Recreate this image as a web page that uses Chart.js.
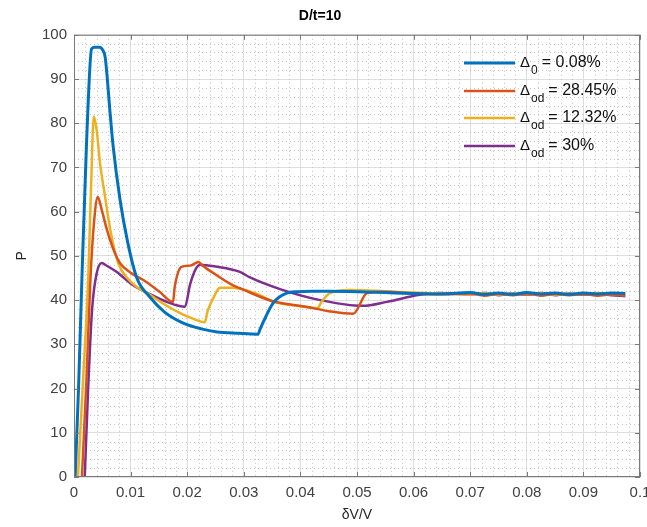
<!DOCTYPE html>
<html>
<head>
<meta charset="utf-8">
<script src="https://cdn.jsdelivr.net/npm/chart.js@4.4.1/dist/chart.umd.min.js"></script>
<style>
  html, body { margin: 0; padding: 0; background: #fff; }
  #wrap { width: 647px; height: 527px; }
</style>
</head>
<body>
<div id="wrap"><canvas id="chart" width="647" height="527"></canvas></div>
<script>
// series data
const blueX = [0.0002, 0.0008, 0.0014, 0.0022, 0.0031, 0.0036, 0.0045, 0.0051, 0.0055, 0.0064, 0.0069, 0.0081, 0.0095, 0.0111, 0.0134, 0.016, 0.0193, 0.0225, 0.0253, 0.029, 0.0325, 0.0329, 0.0352, 0.0376, 0.0394, 0.042, 0.045, 0.05, 0.055, 0.06, 0.065, 0.07, 0.0725, 0.075, 0.0775, 0.08, 0.0825, 0.085, 0.0875, 0.09, 0.0925, 0.095, 0.0974];
const blueY = [0, 20, 45, 75, 96.8, 97.2, 97.2, 96.5, 95, 82, 75, 63, 53, 45, 40.7, 37.3, 34.8, 33.5, 32.8, 32.5, 32.3, 33.5, 39.4, 41.6, 41.9, 42, 42, 41.9, 41.7, 41.5, 41.4, 41.7, 41.3, 41.6, 41.3, 41.7, 41.4, 41.6, 41.3, 41.6, 41.4, 41.6, 41.5];

const orangeX = [0.0014, 0.0022, 0.0029, 0.0035, 0.0042, 0.0049, 0.0058, 0.0072, 0.0081, 0.0100, 0.0122, 0.015, 0.0175, 0.0178, 0.019, 0.0205, 0.022, 0.0228, 0.025, 0.028, 0.0293, 0.035, 0.041, 0.045, 0.0493, 0.0518, 0.055, 0.06, 0.065, 0.07, 0.0725, 0.075, 0.0775, 0.08, 0.0825, 0.085, 0.0875, 0.09, 0.0925, 0.095, 0.0974];
const orangeY = [0, 22, 44.6, 57, 63.3, 60.4, 56, 50.7, 48.4, 46.2, 44.6, 42, 39.6, 43, 47.5, 47.8, 48.6, 47.7, 45.8, 43.4, 42.7, 39.8, 38.5, 37.5, 36.9, 41.6, 41.9, 41.5, 41.3, 41.5, 41, 41.4, 41.1, 41.5, 41, 41.4, 41.1, 41.4, 41, 41.3, 41];

const yellowX = [0.0007, 0.0016, 0.0025, 0.003, 0.0035, 0.004, 0.0046, 0.0055, 0.0064, 0.0078, 0.0094, 0.0113, 0.0134, 0.016, 0.0193, 0.021, 0.0231, 0.0236, 0.0249, 0.0258, 0.028, 0.0305, 0.033, 0.0352, 0.039, 0.043, 0.0437, 0.0452, 0.0488, 0.055, 0.06, 0.065, 0.07, 0.0725, 0.075, 0.0775, 0.08, 0.0825, 0.085, 0.0875, 0.09, 0.0925, 0.095, 0.0974];
const yellowY = [0, 22, 44.6, 65, 81.5, 78.5, 71, 63.3, 56, 48.4, 45, 42.8, 41.2, 39, 36.7, 35.8, 35, 37.5, 41.2, 42.8, 42.8, 42.2, 41, 39.6, 38.8, 38.2, 39.5, 41.6, 42.3, 42, 41.7, 41.5, 41.3, 41.6, 41.2, 41.5, 41.3, 41.6, 41.2, 41.5, 41.3, 41.6, 41.3, 41.4];

const purpleX = [0.0019, 0.0025, 0.0032, 0.004, 0.0049, 0.0055, 0.0075, 0.0104, 0.0135, 0.0164, 0.0196, 0.0205, 0.0215, 0.0223, 0.025, 0.0293, 0.031, 0.0364, 0.0435, 0.051, 0.0553, 0.0611, 0.0647, 0.07, 0.0725, 0.075, 0.0775, 0.08, 0.0825, 0.085, 0.0875, 0.09, 0.0925, 0.095, 0.0974];
const purpleY = [0, 20, 38, 46, 48.4, 48, 46.4, 43.4, 41.3, 39.6, 38.5, 43.5, 47, 48, 47.6, 46.4, 45.2, 42.5, 40, 38.7, 39.6, 41.2, 41.6, 41.3, 41.6, 41.1, 41.5, 41.2, 41.6, 41.1, 41.5, 41.2, 41.5, 41.1, 40.9];

const seriesNames = ['0 = 0.08%', 'od = 28.45%', 'od = 12.32%', 'od = 30%'];
const seriesColors = ['#0072BD', '#D95319', '#EDB120', '#7E2F8E'];
const xTicks = [0, 0.01, 0.02, 0.03, 0.04, 0.05, 0.06, 0.07, 0.08, 0.09, 0.1];
const yTicks = [0, 10, 20, 30, 40, 50, 60, 70, 80, 90, 100];

function pts(xs, ys) {
    return xs.map(function (x, i) { return { x: x, y: ys[i] }; });
}

const allSeries = [pts(blueX, blueY), pts(orangeX, orangeY), pts(yellowX, yellowY), pts(purpleX, purpleY)];

const FONT = "'Liberation Sans', Arial, Helvetica, sans-serif";

// minor dotted grid, inward ticks and box
const gridPlugin = {
    id: 'matlabGrid',
    beforeDatasetsDraw(chart) {
        const ctx = chart.ctx, a = chart.chartArea;
        const xs = chart.scales.x, ys = chart.scales.y;
        ctx.save();
        ctx.strokeStyle = '#c4c4c4';
        ctx.lineWidth = 1;
        ctx.setLineDash([1, 3]);
        for (let i = 1; i < 50; i++) {
            if (i % 5 === 0) continue;
            const px = Math.round(xs.getPixelForValue(i * 0.002)) + 0.5;
            ctx.beginPath(); ctx.moveTo(px, a.top); ctx.lineTo(px, a.bottom); ctx.stroke();
        }
        for (let i = 1; i < 50; i++) {
            if (i % 5 === 0) continue;
            const py = Math.round(ys.getPixelForValue(i * 2)) + 0.5;
            ctx.beginPath(); ctx.moveTo(a.left, py); ctx.lineTo(a.right, py); ctx.stroke();
        }
        ctx.setLineDash([]);
        ctx.restore();
    },
    afterDatasetsDraw(chart) {
        const ctx = chart.ctx, a = chart.chartArea;
        const xs = chart.scales.x, ys = chart.scales.y;
        ctx.save();
        ctx.strokeStyle = '#7a7a7a';
        ctx.lineWidth = 1;
        ctx.strokeRect(a.left + 0.5, a.top + 0.5, a.right - a.left - 1, a.bottom - a.top - 1);
        xTicks.forEach(function (v) {
            const px = Math.round(xs.getPixelForValue(v)) + 0.5;
            ctx.beginPath();
            ctx.moveTo(px, a.bottom); ctx.lineTo(px, a.bottom - 5);
            ctx.moveTo(px, a.top); ctx.lineTo(px, a.top + 5);
            ctx.stroke();
        });
        yTicks.forEach(function (v) {
            const py = Math.round(ys.getPixelForValue(v)) + 0.5;
            ctx.beginPath();
            ctx.moveTo(a.left, py); ctx.lineTo(a.left + 5, py);
            ctx.moveTo(a.right, py); ctx.lineTo(a.right - 5, py);
            ctx.stroke();
        });
        ctx.restore();
    }
};

// legend with subscripts
const legendPlugin = {
    id: 'subLegend',
    afterDraw(chart) {
        const ctx = chart.ctx;
        const rows = [63, 91, 118, 146];
        ctx.save();
        chart.data.datasets.forEach(function (ds, i) {
            const y = rows[i];
            ctx.strokeStyle = ds.borderColor;
            ctx.lineWidth = ds.borderWidth;
            ctx.beginPath(); ctx.moveTo(464, y); ctx.lineTo(515, y); ctx.stroke();
            const parts = seriesNames[i].split(' = ');
            ctx.fillStyle = '#111';
            ctx.textBaseline = 'middle';
            ctx.font = '15px ' + FONT;
            ctx.fillText('\u0394', 520, y);
            let x = 520 + ctx.measureText('\u0394').width + 1;
            ctx.font = '12px ' + FONT;
            ctx.fillText(parts[0], x, y + 8);
            x += ctx.measureText(parts[0]).width + 4;
            ctx.font = '16px ' + FONT;
            ctx.fillText('= ' + parts[1], x, y);
        });
        ctx.restore();
    }
};

const ctx = document.getElementById('chart').getContext('2d');
new Chart(ctx, {
    type: 'line',
    data: {
        datasets: allSeries.map(function (d, i) {
            return {
                label: seriesNames[i],
                data: d,
                borderColor: seriesColors[i],
                backgroundColor: seriesColors[i],
                borderWidth: i === 0 ? 3 : 2.5,
                pointRadius: 0,
                cubicInterpolationMode: 'monotone',
                fill: false
            };
        })
    },
    options: {
        responsive: false,
        animation: false,
        layout: { padding: { left: 0, right: 7, top: 0, bottom: 0 } },
        plugins: {
            legend: { display: false },
            tooltip: { enabled: false },
            title: {
                display: true,
                text: 'D/t=10',
                color: '#000',
                font: { family: FONT, size: 14, weight: 'bold' },
                padding: { top: 8, bottom: 10 }
            }
        },
        scales: {
            x: {
                type: 'linear',
                min: 0, max: 0.1,
                afterFit: function (s) { s.height = 50; s.paddingLeft = 0; s.paddingRight = 0; },
                afterBuildTicks: function (s) { s.ticks = xTicks.map(function (v) { return { value: v }; }); },
                ticks: {
                    color: '#404040',
                    font: { family: FONT, size: 15 },
                    padding: 7,
                    maxRotation: 0,
                    callback: function (v) { return String(+v.toFixed(2)); }
                },
                grid: { color: '#dedede', drawTicks: false },
                border: { display: false },
                title: {
                    display: true, text: '\u03b4V/V', color: '#262626',
                    font: { family: FONT, size: 14 },
                    padding: { top: 0, bottom: 3 }
                }
            },
            y: {
                type: 'linear',
                min: 0, max: 100,
                afterFit: function (s) { s.width = 74; s.paddingTop = 0; s.paddingBottom = 0; },
                afterBuildTicks: function (s) { s.ticks = yTicks.map(function (v) { return { value: v }; }); },
                ticks: {
                    color: '#404040',
                    font: { family: FONT, size: 15 },
                    padding: 7
                },
                grid: { color: '#dedede', drawTicks: false },
                border: { display: false },
                title: {
                    display: true, text: 'P', color: '#262626',
                    font: { family: FONT, size: 14 },
                    padding: { top: 14, bottom: 0 }
                }
            }
        }
    },
    plugins: [gridPlugin, legendPlugin]
});
</script>
</body>
</html>
